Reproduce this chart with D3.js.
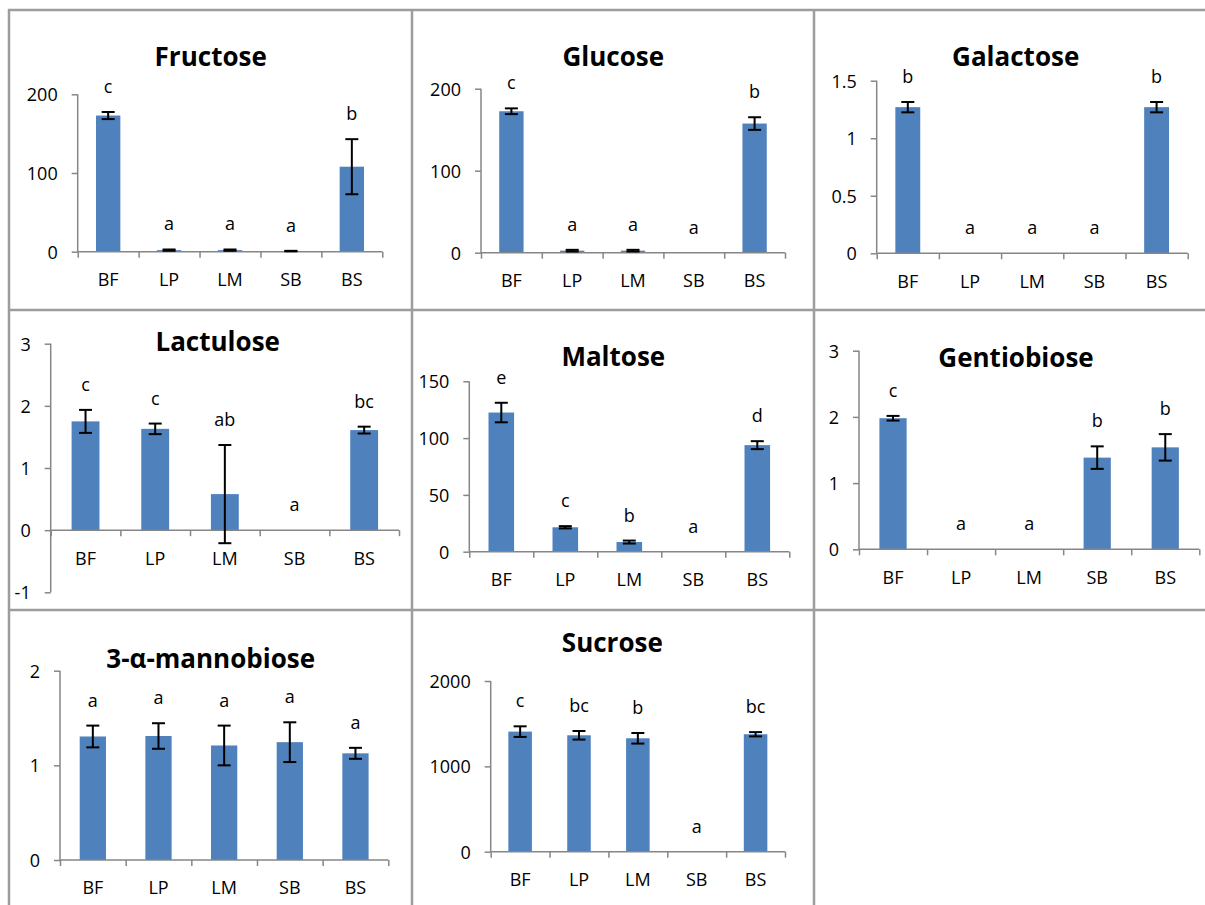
<!DOCTYPE html>
<html>
<head>
<meta charset="utf-8">
<script src="https://cdn.jsdelivr.net/npm/d3@7/dist/d3.min.js"></script>
<style>
  html, body { margin: 0; padding: 0; background: #fff; }
  svg { display: block; }
  text { font-family: "Open Sans", "Noto Sans", sans-serif; fill: #000; }
</style>
</head>
<body>
<svg id="chart" width="1205" height="905"></svg>
<script>
// Sample groups shared by every panel
const categories = ["BF", "LP", "LM", "SB", "BS"];

// Mean content, standard error and significance letters per sugar
const fructoseMean = [173, 2, 2, 0.8, 108];
const fructoseErr = [4.5, 0.8, 0.8, 0.3, 35];
const fructoseLetters = ["c", "a", "a", "a", "b"];
const fructoseTicks = [0, 100, 200];

const glucoseMean = [172.5, 2.5, 2.5, 0, 157.5];
const glucoseErr = [3.5, 1, 1, 0, 7.7];
const glucoseLetters = ["c", "a", "a", "a", "b"];
const glucoseTicks = [0, 100, 200];

const galactoseMean = [1.27, 0, 0, 0, 1.27];
const galactoseErr = [0.045, 0, 0, 0, 0.045];
const galactoseLetters = ["b", "a", "a", "a", "b"];
const galactoseTicks = [0, 0.5, 1, 1.5];

const lactuloseMean = [1.75, 1.63, 0.58, 0, 1.61];
const lactuloseErr = [0.185, 0.085, 0.79, 0, 0.055];
const lactuloseLetters = ["c", "c", "ab", "a", "bc"];
const lactuloseTicks = [-1, 0, 1, 2, 3];

const maltoseMean = [122.5, 21.5, 8.5, 0, 93.8];
const maltoseErr = [8.6, 1, 1.3, 0, 3.5];
const maltoseLetters = ["e", "c", "b", "a", "d"];
const maltoseTicks = [0, 50, 100, 150];

const gentiobioseMean = [1.98, 0, 0, 1.385, 1.54];
const gentiobioseErr = [0.035, 0, 0, 0.17, 0.2];
const gentiobioseLetters = ["c", "a", "a", "b", "b"];
const gentiobioseTicks = [0, 1, 2, 3];

const mannobioseMean = [1.305, 1.31, 1.21, 1.245, 1.127];
const mannobioseErr = [0.115, 0.135, 0.21, 0.21, 0.058];
const mannobioseLetters = ["a", "a", "a", "a", "a"];
const mannobioseTicks = [0, 1, 2];

const sucroseMean = [1407, 1364, 1329, 0, 1376];
const sucroseErr = [62, 50, 62, 0, 25];
const sucroseLetters = ["c", "bc", "b", "a", "bc"];
const sucroseTicks = [0, 1000, 2000];

// Panel layout: plot area in pixels, title anchor
const panels = [
  { title: "Fructose", mean: fructoseMean, err: fructoseErr, letters: fructoseLetters, ticks: fructoseTicks,
    x0: 77.7, x1: 382.3, yBottom: 251.7, yTop: 94.3, tx: 210.7, ty: 57 },
  { title: "Glucose", mean: glucoseMean, err: glucoseErr, letters: glucoseLetters, ticks: glucoseTicks,
    x0: 481, x1: 785, yBottom: 252.7, yTop: 88.7, tx: 613.3, ty: 56.7 },
  { title: "Galactose", mean: galactoseMean, err: galactoseErr, letters: galactoseLetters, ticks: galactoseTicks,
    x0: 876.7, x1: 1187.7, yBottom: 253.3, yTop: 80.7, tx: 1015.7, ty: 56.7 },
  { title: "Lactulose", mean: lactuloseMean, err: lactuloseErr, letters: lactuloseLetters, ticks: lactuloseTicks,
    x0: 50.7, x1: 399, yBottom: 592.3, yTop: 343.7, tx: 217.7, ty: 341.7 },
  { title: "Maltose", mean: maltoseMean, err: maltoseErr, letters: maltoseLetters, ticks: maltoseTicks,
    x0: 469.3, x1: 789.3, yBottom: 551.7, yTop: 381.3, tx: 613.3, ty: 357.3 },
  { title: "Gentiobiose", mean: gentiobioseMean, err: gentiobioseErr, letters: gentiobioseLetters, ticks: gentiobioseTicks,
    x0: 859, x1: 1199.3, yBottom: 549.3, yTop: 350.7, tx: 1016, ty: 358.3 },
  { title: "3-\u03b1-mannobiose", mean: mannobioseMean, err: mannobioseErr, letters: mannobioseLetters, ticks: mannobioseTicks,
    x0: 60, x1: 388.3, yBottom: 860, yTop: 670.7, tx: 210.7, ty: 659.3 },
  { title: "Sucrose", mean: sucroseMean, err: sucroseErr, letters: sucroseLetters, ticks: sucroseTicks,
    x0: 490.7, x1: 785, yBottom: 851.7, yTop: 681, tx: 612.3, ty: 642.7 }
];

const svg = d3.select("#chart");
const AXIS = "#868686";
const BAR = "#4F81BD";
const FS = 18;

// Cell dividers of the panel grid
const frame = svg.append("g").attr("stroke", "#9d9d9d").attr("stroke-width", 2.5);
[[8, 10, 1205, 10], [8, 310, 1205, 310], [8, 610, 1205, 610],
 [9, 9, 9, 905], [412, 9, 412, 905], [814, 9, 814, 905]].forEach(l =>
  frame.append("line").attr("x1", l[0]).attr("y1", l[1]).attr("x2", l[2]).attr("y2", l[3]));

panels.forEach(p => {
  const g = svg.append("g");
  const ticks = p.ticks;
  const y = d3.scaleLinear()
    .domain([ticks[0], ticks[ticks.length - 1]])
    .range([p.yBottom, p.yTop]);
  const x = d3.scaleBand()
    .domain(categories)
    .range([p.x0, p.x1])
    .paddingInner(0.6)
    .paddingOuter(0.3);
  const y0 = y(0);

  // Title
  g.append("text")
    .attr("x", p.tx).attr("y", p.ty + 9)
    .attr("text-anchor", "middle")
    .attr("font-size", 26).attr("font-weight", "bold")
    .text(p.title);

  // Bars
  g.selectAll("rect.bar")
    .data(categories.map((c, i) => ({ c, v: p.mean[i] })))
    .join("rect")
    .attr("class", "bar")
    .attr("x", d => x(d.c))
    .attr("width", x.bandwidth())
    .attr("y", d => Math.min(y(d.v), y0))
    .attr("height", d => Math.abs(y0 - y(d.v)))
    .attr("fill", BAR);

  // Y axis (plain hyphen for negatives)
  const yAxis = g.append("g")
    .attr("transform", `translate(${p.x0},0)`)
    .call(d3.axisLeft(y).tickValues(ticks).tickSize(6).tickPadding(14)
      .tickFormat(d => String(d)));
  yAxis.select(".domain").attr("stroke", AXIS).attr("stroke-width", 1.5)
    .attr("d", `M0,${p.yBottom}V${p.yTop}`);
  yAxis.selectAll(".tick line").attr("stroke", AXIS).attr("stroke-width", 1.5);
  yAxis.selectAll(".tick text").attr("font-size", FS).attr("fill", "#000")
    .attr("font-family", "'Open Sans', 'Noto Sans', sans-serif").attr("dy", "0.36em");

  // X axis: tick marks at category boundaries, labels at centres
  const edge = d3.scaleLinear().domain([0, categories.length]).range([p.x0, p.x1]);
  const xTicks = g.append("g")
    .attr("transform", `translate(0,${y0})`)
    .call(d3.axisBottom(edge).tickValues(d3.range(categories.length + 1)).tickSize(6).tickFormat(""));
  xTicks.select(".domain").attr("stroke", AXIS).attr("stroke-width", 1.5)
    .attr("d", `M${p.x0},0H${p.x1}`);
  xTicks.selectAll(".tick line").attr("stroke", AXIS).attr("stroke-width", 1.5);

  const xLabels = g.append("g")
    .attr("transform", `translate(0,${y0 + 28})`)
    .call(d3.axisBottom(x).tickSize(0).tickPadding(0));
  xLabels.select(".domain").remove();
  xLabels.selectAll(".tick text").attr("font-size", FS).attr("fill", "#000")
    .attr("font-family", "'Open Sans', 'Noto Sans', sans-serif").attr("dy", "0.36em");

  // Error bars
  const eb = g.append("g").attr("stroke", "#000").attr("stroke-width", 2);
  categories.forEach((c, i) => {
    const v = p.mean[i], e = p.err[i];
    if (e <= 0) return;
    const cx = x(c) + x.bandwidth() / 2;
    eb.append("line").attr("x1", cx).attr("x2", cx).attr("y1", y(v + e)).attr("y2", y(v - e));
    eb.append("line").attr("x1", cx - 6.5).attr("x2", cx + 6.5).attr("y1", y(v + e)).attr("y2", y(v + e));
    eb.append("line").attr("x1", cx - 6.5).attr("x2", cx + 6.5).attr("y1", y(v - e)).attr("y2", y(v - e));
  });

  // Significance letters above each error bar
  categories.forEach((c, i) => {
    const top = y(Math.max(0, p.mean[i] + p.err[i]));
    g.append("text")
      .attr("x", x(c) + x.bandwidth() / 2)
      .attr("y", top - 19)
      .attr("text-anchor", "middle")
      .attr("font-size", FS)
      .text(p.letters[i]);
  });
});
</script>
</body>
</html>
